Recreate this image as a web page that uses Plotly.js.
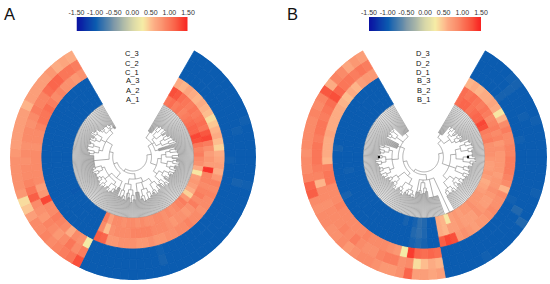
<!DOCTYPE html>
<html><head><meta charset="utf-8">
<script src="https://cdn.plot.ly/plotly-3.0.1.min.js"></script>
<style>html,body{margin:0;padding:0;background:#fff}#c{width:550px;height:284px}</style></head>
<body><div id="c"></div>
<script>
// heat values, one row per track, one value per 4 degree sector from the opening clockwise
const A_1=[1.0,1.05,.95,1.0,.9,.95,1.0,1.05,1.1,1.1,1.3,1.25,1.0,.9,.95,.85,.8,.6,.3,.7,.75,.7,.6,.4,.75,.95,.9,.85,.8,.85,.8,.85,.85,.8,.8,.85,.8,.85,.85,.8,.85,.85,.7,.95,
 -1,-1,-1,-1,-1,-1,-1,-1,-1.02,-1,-1,-1,-1,-1,-1,-1,-1,-1,-1,-1,-1,-1,-1,-1,-1,-1,-1,-1,-1,-1,-1];
const A_2=[1.25,1.2,1.05,1.0,.95,1.0,.95,1.0,1.05,1.0,1.2,1.3,.95,.8,.7,.75,.7,1.4,.9,.9,.85,.9,.95,.85,.95,.8,.75,.8,.8,.75,.8,.85,.85,.85,.9,.9,.9,.9,.85,.85,.85,.8,.5,.85,
 -1,-1,-1,-1,-1,-1,-1,-1,-1,-1,-1,-1,-1,-1,-1,-1,-1,-1,-1,-1,-1,-1,-1,-1,-1,-1,-1,-1,-1,-1,-1];
const A_3=[.6,.55,.65,.6,.55,.6,.55,.5,.35,.45,.55,.6,.5,.4,.6,.65,.7,.6,.75,.9,.85,.9,.85,.85,.8,.85,.85,.9,.85,.85,.8,.8,.75,.75,.8,.75,.75,.8,.8,.8,.75,.75,1.1,1.15,
 -1,-1,-1,-1,-1,-1,-1,-1,-1,-1,-1,-1,-1,-1,-1,-1,-1,-1,-1,-1,-1,-1,-1,-1,-1,-1,-1,-1,-1,-1,-1];
const C_1=[-1,-1,-1,-1,-1,-1,-1,-1,-1,-1,-1,-1,-1,-1,-1,-.97,-1,-1,-1,-1,-1,-1,-1,-1,-1,-1,-1,-1,-1,-1,-1,-1,-1,-.97,-1,-1,-1,-1,-1,-1,-1,-1,-1,-1,
 .25,.8,.85,.6,.85,.9,.95,.85,.85,1.3,.75,.7,.85,.85,.85,.85,.85,.8,.85,.85,.9,1.0,1.0,1.05,.95,.85,.9,.8,.8,.75,.8];
const C_2=[-1,-1,-1,-1,-1,-1,-1,-1,-1,-1,-1,-.97,-1,-1,-1,-1,-1,-1,-.95,-1,-1,-1,-1,-1,-1,-1,-1,-1,-1,-1,-1,-1,-1,-.95,-1,-1,-1,-1,-1,-1,-1,-1,-1,-1,
 .95,.85,1.0,.85,.75,.85,.9,.75,.8,.85,1.15,1.0,.9,.85,.85,.8,.85,.8,.85,.85,.8,.85,.95,.9,.9,1.05,1.1,1.1,1.0,1.0,.95];
const C_3=[-1,-1,-1,-1,-1,-1,-1,-1,-1,-1,-.97,-1,-1,-1,-1,-1,-1,-1,-.97,-1,-1,-1,-1,-1,-1,-1,-1,-1,-1,-1,-1,-1,-1,-1,-1,-1,-1,-1,-1,-1,-1,-1,-1,-1,
 1.25,1.0,.95,.9,.85,.9,.85,.85,.7,.45,.35,.75,.8,.8,.8,.8,.75,.7,.7,.7,.7,.7,.55,.7,.7,.7,.7,.75,.6,.65,.6];
const B_1=[1.05,1.1,1.1,1.0,1.05,1.1,1.1,1.3,1.25,.95,.9,.95,.8,.8,.8,.75,.7,.7,.75,.7,.6,.65,.7,.75,.75,.75,.8,.75,.75,.7,.75,.7,.3,.55,.6,
 -1,-1,-.9,-.85,-.95,-1,-.95,-1,-1,-1,-1,-1,-1,-1,-1,-1,-1,-1,-1,-1,-1,-1,-1,-1,-1,-1,-1,-1,-1,-1,-1,-1,-1,-1,-1,-1,-1,-1,-1,-1];
const B_2=[1.05,1.0,1.05,1.0,.95,1.0,.95,.85,.9,.95,.85,.9,.75,.8,.75,.75,.75,.75,.7,.75,.75,.8,.75,.7,.7,.75,.8,.7,.7,.7,.75,.7,.7,.55,.6,
 -1,-1,-.92,-.85,-.9,-1,-1,-1,-1,-1,-1,-1,-1,-1,-1,-1,-1,-1,-1,-1,-1,-1,-.97,-1,-1,-1,-1,-1,-1,-1,-1,-1,-1,-1,-1,-1,-1,-1,-1,-1];
const B_3=[.55,.6,.55,.6,.6,.65,.6,.3,.55,.85,.95,.85,.85,.9,.9,.95,.95,.95,.9,.85,.55,.85,.8,.8,.85,.8,.75,.75,.7,.75,.8,.75,1.25,1.3,1.15,
 -1,-1,-.95,-.9,-.95,-1,-1,-1,-1,-1,-1,-1,-1,-1,-1,-1,-1,-1,-.95,-1,-1,-1,-1,-1,-1,-1,-.95,-1,-1,-1,-1,-1,-1,-1,-1,-1,-1,-1,-1,-1];
const D_1=[-1,-1,-1,-1,-1,-.95,-1,-1,-1,-1,-1,-1,-.97,-1,-1,-1,-1,-1,-1,-1,-1,-.97,-1,-1,-1,-1,-1,-1,-1,-1,-1,-1,-1,-1,-1,
 1.05,1.1,1.05,1.1,1.35,.25,.75,.8,.85,.85,.85,.9,.85,.85,.85,.85,.85,.9,.85,.85,.85,1.0,1.0,.95,.55,.6,.6,.6,.65,.6,.6,.6,.6,.55,.5,.6,.55,.7,.75,.75];
const D_2=[-1,-1,-1,-1,-1,-.95,-1,-1,-1,-.97,-1,-1,-1,-1,-1,-1,-1,-1,-1,-1,-1,-1,-.9,-1,-1,-1,-1,-1,-1,-1,-1,-1,-1,-1,-1,
 .55,.6,.5,.35,.85,.8,.95,.95,.9,.8,.8,.85,.95,.85,.9,.85,.85,.85,.8,.85,.85,.55,.9,.95,1.0,1.0,1.0,.95,1.0,1.0,.95,1.0,1.05,1.25,1.1,1.0,1.0,.95,1.0,.95];
const D_3=[-1,-1,-1,-1,-.97,-.95,-1,-1,-1,-1,-.97,-1,-1,-1,-1,-1,-1,-1,-1,-.97,-1,-1,-1,-.9,-1,-1,-1,-1,-1,-.97,-1,-1,-1,-1,-1,
 .7,.65,.7,.7,1.1,.8,.75,.75,.8,.85,.85,.8,.75,.85,.8,.8,.85,.85,.8,.85,1.15,1.1,.9,.85,.85,.8,.85,.85,.85,.85,.9,.85,.9,1.2,.6,.9,.85,.65,.75,.7];

// dendrograms: [branch radius, child, child ...], a plain number is that many leaves
const treeA=[14,
 [19,
  [24,[32,8],[27,[31,[37,[42,2,2],[44,2,3]],[39,[45,2,2],3]],[33,[38,[43,3,2],[46,2,2]],[41,[47,2,2],[49,2,1]]]],
   [28,5]],
  [26,[30,[35,[40,[46,2,2],[48,2,2]],[42,[49,3,2],2]],[37,[43,[47,2,2],[50,2,2]],[41,[46,3,2],[48,2,1]]]],
   [31,[36,[42,[47,2,2],[44,2,3]],[40,[45,2,1],3]],[38,[44,[48,2,2],2],[41,[46,1,2],1]]]]],
 [17,
  [23,[28,[34,[40,3,[45,3,2]],[42,[47,2,2],[44,2,2]]],[36,[41,[46,2,2],[48,3,2]],[43,[49,2,2],[46,2,2]]],[38,6]],
   [29,[35,[41,[46,2,2],[49,1,2]],[39,[44,2,2],2]],[37,[43,[47,2,2],2],[45,2,3]]]],
  [21,
   [28,[36,5],[32,[36,[40,3,[44,3,2]],[42,[46,2,2],3]],[38,[42,[45,3,2],[47,2,2]],[41,[45,2,3],[44,3,2]]],[35,[40,[44,3,2],[46,2,1]],[42,[45,2,2],2]]]],
   [25,[42,15],
    [33,[37,[42,[47,2,2],[49,2,2]],[44,[50,3,2],[48,2,2]]],[39,[44,[50,2,2],[47,2,2]],[46,[52,2,1],[49,2,3]]],
     [38,[42,[45,2,2],[44,3,2]],[40,[44,2,3],[42,2,2]],[36,4]]]]]]];
const treeB=[15,
 [20,
  [25,[30,9],[33,[36,[40,[43,2,2],[44,2,2]],[39,[43,2,1],2]],[37,[41,[44,2,2],[46,2,1]],[42,2,2]]]],
  [28,[34,[40,[46,[51,2,2],[53,2,2]],[48,[54,2,1],[52,2,2]]],[42,[47,[52,2,2],[55,1,2]],[50,[56,1,1],[53,2,2]]]],
   [36,[44,[49,2,2],[51,2,2]],[46,[52,2,1],[50,2,2]]],
   [34,[40,[45,[49,2,2],[50,2,1]],[43,[47,2,2],[49,2,1]]],[42,[46,[50,1,2],[48,2,2]],[44,[48,2,2],[49,2,1]]]]]],
 [18,
  [24,[70,8],[44,12],[27,[33,[37,2,2],[39,3,1]],[36,[40,2,1],[38,1,2]]],[38,3]],
  [22,
   [26,[33,[38,[42,[45,2,2],[44,2,2]],[40,[44,2,1],[43,2,1]]],[40,[44,[47,2,2],2],[43,2,2]]],
    [35,[40,[44,[47,2,2],2],[43,2,2]],[41,[45,2,2],[44,1,2]]]],
   [27,[34,[39,[44,[48,2,2],[50,2,2]],[46,[50,2,1],[49,2,2]]],[41,[46,[50,2,2],[52,2,1]],[45,[49,2,2],[50,1,1]]],[38,[43,[47,2,2],[48,2,1]],[44,[49,1,2],2]]],
    [30,9],
    [36,[41,[45,2,2],[44,2,1]],[43,[46,2,1],[45,2,2]]],
    [32,14]]]]];

// values for the colour ramp above each panel
const rampValues=[-1.5,-1.375,-1.25,-1.125,-1,-.875,-.75,-.625,-.5,-.375,-.25,-.125,0,.125,.25,.375,.5,.625,.75,.875,1,1.125,1.25,1.375,1.5];
const tickVals=[-1.5,-1,-.5,0,.5,1,1.5];
const tickText=['-1.50','-1.00','-0.50','0.00','0.50','1.00','1.50'];
const labelsA=['C_3','C_2','C_1','A_3','A_2','A_1'];
const labelsB=['D_3','D_2','D_1','B_3','B_2','B_1'];
const spotsTheta=[270,90];
const spotsR=[45,44];

const scale=[[0,'#0a12a2'],[.1667,'#0b5cb0'],[.3333,'#7f99a8'],[.5,'#d9d8a8'],[.59,'#f6eca6'],[.6667,'#fdbd8e'],[.7,'#fcab83'],[.783,'#fa8b69'],[.8333,'#fa7658'],[.917,'#f94f3a'],[1,'#f81f1f']];
const R0=61,TH=10.33,START=30,SWEEP=300,STEP=4,TREE_K=.9;

function heat(tracks,sub){
 const t=[],b=[],r=[],c=[];
 tracks.forEach((arr,k)=>arr.forEach((v,i)=>{t.push(START+STEP*(i+.5));b.push(R0+TH*k);r.push(TH);c.push(v);}));
 return {type:'barpolar',subplot:sub,theta:t,base:b,r:r,width:t.map(()=>STEP),
  marker:{color:c,colorscale:scale,cmin:-1.5,cmax:1.5,showscale:false,line:{width:.8,color:c,colorscale:scale,cmin:-1.5,cmax:1.5}},hoverinfo:'skip'};
}
function count(n){return typeof n==='number'?n:n.slice(1).reduce((s,c)=>s+count(c),0);}
function dendro(tree,sub){
 const N=count(tree),d=SWEEP/N,th=[],rr=[];let idx=0;
 const sc=r=>Math.min(R0,14+(r-14)*TREE_K);
 const seg=(a,b,ra,rb)=>{th.push(a,b,null);rr.push(ra,rb,null);};
 function arc(a,b,r){for(let x=a;x<b;x+=1.5){seg(x,Math.min(x+1.5,b),r,r);}}
 function walk(n){
  const r=sc(n[0]),pos=[];
  n.slice(1).forEach(c=>{
   if(typeof c==='number'){for(let i=0;i<c;i++){const a=START+d*(idx+.5);idx++;seg(a,a,r,R0);pos.push(a);}}
   else{const p=walk(c);seg(p,p,r,sc(c[0]));pos.push(p);}
  });
  arc(pos[0],pos[pos.length-1],r);
  return (pos[0]+pos[pos.length-1])/2;
 }
 walk(tree);
 return {type:'scatterpolar',subplot:sub,mode:'lines',theta:th,r:rr,connectgaps:false,
  line:{color:'#858585',width:.65},hoverinfo:'skip',showlegend:false};
}
function spots(sub){return {type:'scatterpolar',subplot:sub,mode:'markers',theta:spotsTheta,r:spotsR,marker:{color:'#111',size:2.5},hoverinfo:'skip'};}
function ramp(xa,ya){return {type:'heatmap',x:rampValues,y:[0],z:[rampValues],xaxis:xa,yaxis:ya,colorscale:scale,zmin:-1.5,zmax:1.5,showscale:false,zsmooth:'best',hoverinfo:'skip'};}

const W=550,H=284,cy=157,RR=123;
function polar(cx){return {domain:{x:[(cx-RR)/W,(cx+RR)/W],y:[(H-cy-RR)/H,(H-cy+RR)/H]},bgcolor:'rgba(0,0,0,0)',
 radialaxis:{visible:false,range:[0,RR]},angularaxis:{visible:false,rotation:90,direction:'clockwise'}};}
function xax(a,b){return {domain:[a/W,b/W],range:[-1.5,1.5],side:'top',tickvals:tickVals,ticktext:tickText,ticks:'',showgrid:false,zeroline:false,showline:false,
 tickfont:{family:'Liberation Sans, Arial, sans-serif',size:7,color:'#333'},automargin:false};}
function yax(){return {domain:[(H-31)/H,(H-17)/H],visible:false,range:[-.5,.5]};}
const anns=[];
function lab(list,cx){list.forEach((s,i)=>anns.push({text:s,xref:'paper',yref:'paper',x:cx/W,y:(H-(54+9*i))/H,xanchor:'center',yanchor:'middle',showarrow:false,
 font:{family:'Liberation Sans, Arial, sans-serif',size:7.5,color:'#111'}}));}
lab(labelsA,132);lab(labelsB,423);
[['A',9.5],['B',292.5]].forEach(p=>anns.push({text:p[0],xref:'paper',yref:'paper',x:p[1]/W,y:(H-14.5)/H,xanchor:'center',yanchor:'middle',showarrow:false,
 font:{family:'Liberation Sans, Arial, sans-serif',size:16.5,color:'#111'}}));

Plotly.newPlot('c',[
 heat([A_1,A_2,A_3,C_1,C_2,C_3],'polar'),dendro(treeA,'polar'),
 heat([B_1,B_2,B_3,D_1,D_2,D_3],'polar2'),dendro(treeB,'polar2'),spots('polar2'),
 ramp('x','y'),ramp('x2','y2')
],{
 width:W,height:H,margin:{l:0,r:0,t:0,b:0},paper_bgcolor:'#fff',showlegend:false,
 polar:polar(133),polar2:polar(424),
 xaxis:xax(76.5,188),yaxis:yax(),xaxis2:Object.assign(xax(369,481),{anchor:'y2'}),yaxis2:Object.assign(yax(),{anchor:'x2'}),
 annotations:anns
},{staticPlot:true,displayModeBar:false});
</script></body></html>
